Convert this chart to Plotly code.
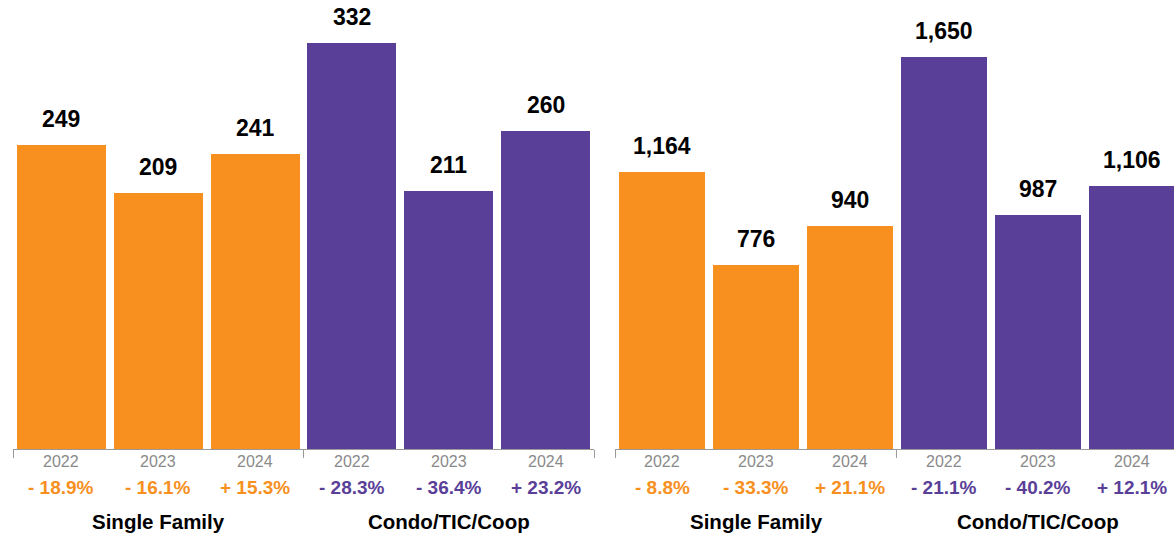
import plotly.graph_objects as go

years = ["2022", "2023", "2024", "2022", "2023", "2024"]
groups = ["Single Family", "Condo/TIC/Coop"]
left_values = [249, 209, 241, 332, 211, 260]
left_pct = [-18.9, -16.1, 15.3, -28.3, -36.4, 23.2]
right_values = [1164, 776, 940, 1650, 987, 1106]
right_pct = [-8.8, -33.3, 21.1, -21.1, -40.2, 12.1]

ORANGE = "#F7901E"
PURPLE = "#5A3F99"
colors = [ORANGE] * 3 + [PURPLE] * 3
FONT = "Liberation Sans, Arial, Helvetica, sans-serif"

W, H = 1174, 536
AXIS_Y = 449

fig = go.Figure()
xs = list(range(6))

def fmt_pct(v):
    return ("+ " if v > 0 else "- ") + f"{abs(v):.1f}%"

panels = [
    ("x", "y", left_values, left_pct, [13 / W, 594 / W], [-0.5, 5.5], 367.2),
    ("x2", "y2", right_values, right_pct, [615 / W, 1.0], [-0.5, 5.447], 1890),
]

annotations = []
for i, (xa, ya, vals, pcts, dom, xr, ymax) in enumerate(panels):
    fig.add_trace(go.Bar(x=xs, y=vals, marker=dict(color=colors, line=dict(width=0)),
                         width=0.918, xaxis=xa, yaxis=ya, showlegend=False,
                         hoverinfo="skip"))
    sfx = "" if i == 0 else "2"
    fig.layout["xaxis" + sfx] = dict(
        domain=dom, range=xr, anchor="y" + sfx, showgrid=False, zeroline=False,
        showline=True, linecolor="#9a9a9a", linewidth=1,
        tickmode="array", tickvals=xs, ticktext=[""] * 6, ticks="", ticklen=0,
        minor=dict(tickmode="array", tickvals=[-0.5, 2.5, 5.5], ticks="outside",
                   ticklen=8, tickcolor="#9a9a9a", tickwidth=1),
        fixedrange=True,
    )
    fig.layout["yaxis" + sfx] = dict(
        domain=[(H - AXIS_Y) / H, 1.0], range=[0, ymax], anchor="x" + sfx,
        visible=False, showgrid=False, zeroline=False, fixedrange=True,
    )
    for j in xs:
        annotations.append(dict(x=j, y=vals[j], xref=xa, yref=ya, text=f"<b>{vals[j]:,}</b>",
                                showarrow=False, yanchor="middle", yshift=26,
                                font=dict(family=FONT, size=23, color="#000000")))
        annotations.append(dict(x=j, y=0, xref=xa, yref=ya, text=years[j],
                                showarrow=False, yanchor="middle", yshift=-12,
                                font=dict(family=FONT, size=16, color="#8a8a8a")))
        annotations.append(dict(x=j, y=0, xref=xa, yref=ya, text=f"<b>{fmt_pct(pcts[j])}</b>",
                                showarrow=False, yanchor="middle", yshift=-38,
                                font=dict(family=FONT, size=19, color=colors[j])))
    for g, gx in zip(groups, [1, 4]):
        annotations.append(dict(x=gx, y=0, xref=xa, yref=ya, text=f"<b>{g}</b>",
                                showarrow=False, yanchor="middle", yshift=-72,
                                font=dict(family=FONT, size=20.5, color="#000000")))

fig.update_layout(
    width=W, height=H, margin=dict(l=0, r=0, t=0, b=0),
    paper_bgcolor="white", plot_bgcolor="white",
    annotations=annotations, bargap=0,
)

fig.write_html("out.html", config={"displayModeBar": False},
               post_script="document.body.style.margin='0';document.body.style.padding='0';")
